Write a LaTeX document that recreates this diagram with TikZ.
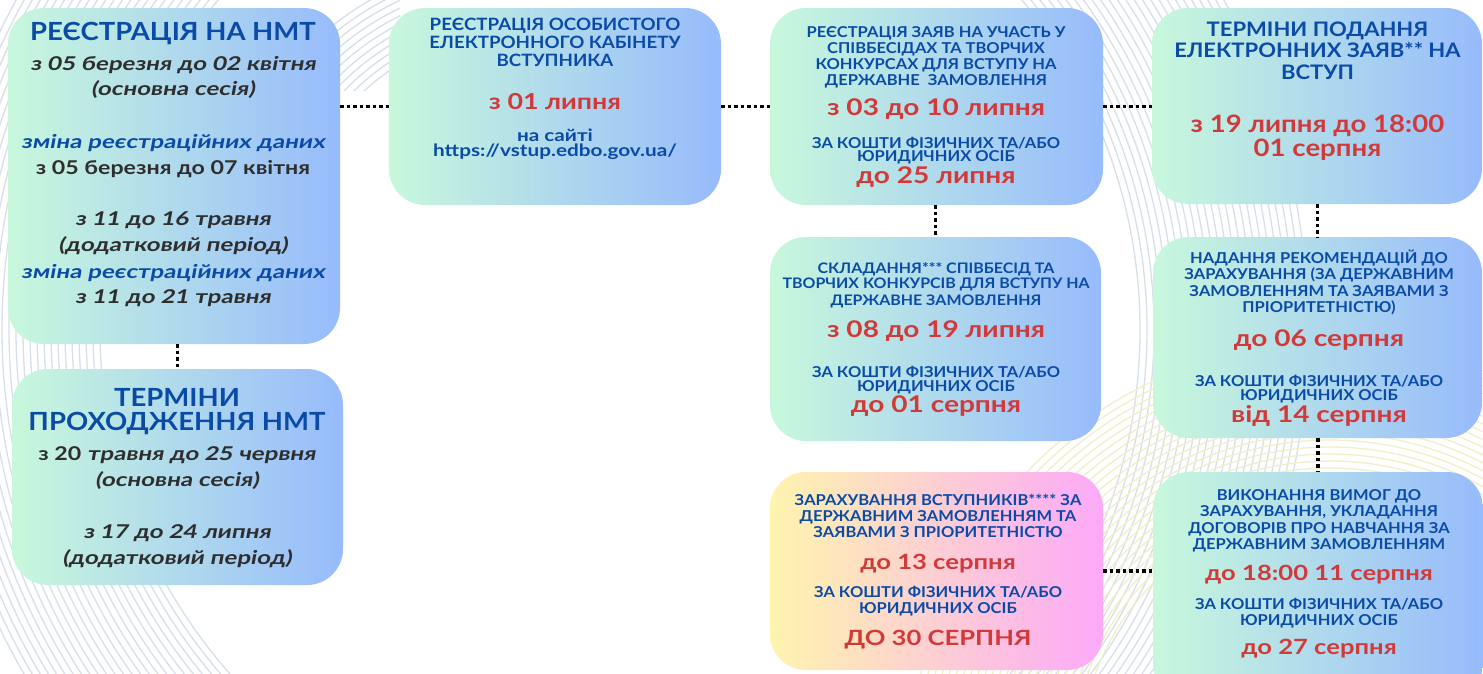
\documentclass[tikz,border=0pt]{standalone}
\usepackage{fontspec}
\setmainfont{Lato}
\newfontfamily\fhd{Lato}[FakeStretch=1.1]
\newfontfamily\flow{Lato}[FakeStretch=1.22]
\newfontfamily\flowb{Lato}[FakeStretch=1.15]
\newfontfamily\fobl{Lato}[FakeStretch=1.27, FakeSlant=0.18]
\definecolor{tblue}{HTML}{0B4BA8}
\definecolor{tred}{HTML}{D23A3A}
\definecolor{tgray}{HTML}{2E2E2E}
\definecolor{gmint}{HTML}{C8F8DC}
\definecolor{gmid}{HTML}{B2DDE6}
\definecolor{gblue}{HTML}{97BBFC}
\definecolor{gyel}{HTML}{FEF4AE}
\definecolor{gpeach}{HTML}{FCD2D2}
\definecolor{gpink}{HTML}{FCA9F8}
\definecolor{arcb}{HTML}{D5E0EC}
\definecolor{arcy}{HTML}{F4EEC8}
\tikzset{
  box/.style={rounded corners=36pt, inner sep=0pt, left color=gmint, middle color=gmid, right color=gblue},
  boxw/.style={rounded corners=36pt, inner sep=0pt, left color=gyel, middle color=gpeach, right color=gpink},
  hd/.style={text=tblue, inner sep=0pt, anchor=base, font={\fhd\fontsize{#1pt}{#1pt}\selectfont\bfseries}},
  hl/.style={text=tblue, inner sep=0pt, anchor=base, font={\flow\fontsize{#1pt}{#1pt}\selectfont\bfseries}},
  rd/.style={text=tred, inner sep=0pt, anchor=base, font={\flow\fontsize{#1pt}{#1pt}\selectfont\bfseries}},
  rdn/.style={text=tred, inner sep=0pt, anchor=base, font={\flowb\fontsize{#1pt}{#1pt}\selectfont\bfseries}},
  it/.style={text=tgray, inner sep=0pt, anchor=base, font={\fobl\fontsize{#1pt}{#1pt}\selectfont\bfseries}},
  bi/.style={text=tblue, inner sep=0pt, anchor=base, font={\fobl\fontsize{#1pt}{#1pt}\selectfont\bfseries}},
  up/.style={text=tgray, inner sep=0pt, anchor=base, font={\flow\fontsize{#1pt}{#1pt}\selectfont\bfseries}},
  conn/.style={line width=3.5pt, dash pattern=on 3.5pt off 3pt, black},
  arcline/.style={line width=1.3pt}
}
\begin{document}
\begin{tikzpicture}[x=1pt,y=-1pt]
\useasboundingbox (0,0) rectangle (1483,673);
\fill[white] (0,0) rectangle (1483,673);
% decorative arcs
\begin{scope}
  \clip (0,0) rectangle (1483,673);
  \foreach \r in {520,527,...,690} \draw[arcb, arcline] (620,330) circle[radius=\r pt];
  \foreach \r in {250,257,...,420} \draw[arcy, arcline] (1330,760) circle[radius=\r pt];
\end{scope}
\begin{scope}
  \clip (330,0) rectangle (400,90);
  \foreach \r in {230,237,...,300} \draw[arcb, arcline] (520,260) circle[radius=\r pt];
\end{scope}
% boxes
\node[box, minimum width=332pt, minimum height=336pt] (A) at (174,176) {};
\node[box, minimum width=331pt, minimum height=216pt] (B) at (177.5,477) {};
\node[box, minimum width=332pt, minimum height=197pt] (C) at (555,106.5) {};
\node[box, minimum width=333pt, minimum height=197pt] (D) at (936.5,106.5) {};
\node[box, minimum width=330pt, minimum height=196pt] (E) at (1317,106) {};
\node[box, minimum width=331pt, minimum height=204pt] (F) at (935.5,339) {};
\node[box, minimum width=329pt, minimum height=201pt] (G) at (1317.5,337.5) {};
\node[boxw, minimum width=333pt, minimum height=198pt] (H) at (936.5,571) {};
\node[box, minimum width=330pt, minimum height=228pt] (I) at (1318,586) {};
% connectors
\draw[conn] (C.west -| A.east) -- (C.west);
\draw[conn] (C.east) -- (D.west);
\draw[conn] (D.east) -- (D.east -| E.west);
\draw[conn] (B.north |- A.south) -- (B.north);
\draw[conn] (D.south -| F.north) -- (F.north);
\draw[conn] (E.south -| G.north) -- (G.north);
\draw[conn] (G.south -| I.north) -- (I.north);
\draw[conn] (H.east) -- (H.east -| I.west);
% box A
\node[hd=25] (a1) at (173,40) {РЕЄСТРАЦІЯ НА НМТ};
\node[it=19] (a2) at (173,70) {з 05 березня до 02 квітня};
\node[it=19] (a3) at (173,95.5) {(основна сесія)};
\node[bi=19] (a4) at (173,148) {зміна реєстраційних даних};
\node[up=19] (a5) at (173,174) {з 05 березня до 07 квітня};
\node[it=19] (a6) at (173,225) {з 11 до 16 травня};
\node[it=19] (a7) at (173,251) {(додатковий період)};
\node[bi=19] (a8) at (173,278) {зміна реєстраційних даних};
\node[it=19] (a9) at (173,303) {з 11 до 21 травня};
% box B
\node[hd=25] (b1) at (177,406.7) {ТЕРМІНИ};
\node[hd=25] (b2) at (177,430.7) {ПРОХОДЖЕННЯ НМТ};
\node[it=19] (b3) at (177,460.7) {{\flow\bfseries з 20} травня до 25 червня};
\node[it=19] (b4) at (177,486) {(основна сесія)};
\node[it=19] (b5) at (177,538) {з 17 до 24 липня};
\node[it=19] (b6) at (177,564) {(додатковий період)};
% box C
\node[hd=17] (c1) at (555,30.7) {РЕЄСТРАЦІЯ ОСОБИСТОГО};
\node[hd=17] (c2) at (555,48.3) {ЕЛЕКТРОННОГО КАБІНЕТУ};
\node[hd=17] (c3) at (555,66) {ВСТУПНИКА};
\node[rd=22] (c4) at (555,109.3) {з 01 липня};
\node[hl=17] (c5) at (555,141.7) {на сайті};
\node[hl=17] (c6) at (555,156.7) {https://vstup.edbo.gov.ua/};
% box D
\node[hd=15] (d1) at (936,37.3) {РЕЄСТРАЦІЯ ЗАЯВ НА УЧАСТЬ У};
\node[hd=15] (d2) at (936,53.3) {СПІВБЕСІДАХ ТА ТВОРЧИХ};
\node[hd=15] (d3) at (936,69) {КОНКУРСАХ ДЛЯ ВСТУПУ НА};
\node[hd=15] (d4) at (936,85) {ДЕРЖАВНЕ\ \ ЗАМОВЛЕННЯ};
\node[rd=23] (d5) at (936,115) {з 03 до 10 липня};
\node[hd=15] (d6) at (936,148.3) {ЗА КОШТИ ФІЗИЧНИХ ТА/АБО};
\node[hd=15] (d7) at (936,161.7) {ЮРИДИЧНИХ ОСІБ};
\node[rd=23] (d8) at (936,183.3) {до 25 липня};
% box E
\node[hd=20] (e1) at (1317.5,36) {ТЕРМІНИ ПОДАННЯ};
\node[hd=20] (e2) at (1317.5,57.3) {ЕЛЕКТРОННИХ ЗАЯВ** НА};
\node[hd=20] (e3) at (1317.5,79) {ВСТУП};
\node[rdn=24] (e4) at (1317.5,132.7) {з 19 липня до 18:00};
\node[rdn=24] (e5) at (1317.5,156.7) {01 серпня};
% box F
\node[hd=14.5] (f1) at (936,273.3) {СКЛАДАННЯ*** СПІВБЕСІД ТА};
\node[hd=14.5] (f2) at (936,288.3) {ТВОРЧИХ КОНКУРСІВ ДЛЯ ВСТУПУ НА};
\node[hd=14.5] (f3) at (936,305) {ДЕРЖАВНЕ ЗАМОВЛЕННЯ};
\node[rd=23] (f4) at (936,337.3) {з 08 до 19 липня};
\node[hd=15] (f5) at (936,377.3) {ЗА КОШТИ ФІЗИЧНИХ ТА/АБО};
\node[hd=15] (f6) at (936,391.7) {ЮРИДИЧНИХ ОСІБ};
\node[rd=23] (f7) at (936,412.7) {до 01 серпня};
% box G
\node[hd=15] (g1) at (1319,263.3) {НАДАННЯ РЕКОМЕНДАЦІЙ ДО};
\node[hd=15] (g2) at (1319,279.3) {ЗАРАХУВАННЯ (ЗА ДЕРЖАВНИМ};
\node[hd=15] (g3) at (1319,296) {ЗАМОВЛЕННЯМ ТА ЗАЯВАМИ З};
\node[hd=15] (g4) at (1319,312.7) {ПРІОРИТЕТНІСТЮ)};
\node[rd=23] (g5) at (1319,346.7) {до 06 серпня};
\node[hd=15] (g6) at (1319,386.7) {ЗА КОШТИ ФІЗИЧНИХ ТА/АБО};
\node[hd=15] (g7) at (1319,400) {ЮРИДИЧНИХ ОСІБ};
\node[rd=23] (g8) at (1319,422.7) {від 14 серпня};
% box H
\node[hd=15] (h1) at (938,505) {ЗАРАХУВАННЯ ВСТУПНИКІВ**** ЗА};
\node[hd=15] (h2) at (938,521.7) {ДЕРЖАВНИМ ЗАМОВЛЕННЯМ ТА};
\node[hd=15] (h3) at (938,537.3) {ЗАЯВАМИ З ПРІОРИТЕТНІСТЮ};
\node[rd=21] (h4) at (938,569.3) {до 13 серпня};
\node[hd=15] (h5) at (938,597.3) {ЗА КОШТИ ФІЗИЧНИХ ТА/АБО};
\node[hd=15] (h6) at (938,613.3) {ЮРИДИЧНИХ ОСІБ};
\node[rd=21] (h7) at (938,645) {ДО 30 СЕРПНЯ};
% box I
\node[hd=15] (i1) at (1319,500.7) {ВИКОНАННЯ ВИМОГ ДО};
\node[hd=15] (i2) at (1319,516.7) {ЗАРАХУВАННЯ, УКЛАДАННЯ};
\node[hd=15] (i3) at (1319,533.3) {ДОГОВОРІВ ПРО НАВЧАННЯ ЗА};
\node[hd=15] (i4) at (1319,549.3) {ДЕРЖАВНИМ ЗАМОВЛЕННЯМ};
\node[rd=21] (i5) at (1319,580.7) {до 18:00 11 серпня};
\node[hd=15] (i6) at (1319,609.3) {ЗА КОШТИ ФІЗИЧНИХ ТА/АБО};
\node[hd=15] (i7) at (1319,625) {ЮРИДИЧНИХ ОСІБ};
\node[rd=21] (i8) at (1319,654) {до 27 серпня};
\end{tikzpicture}
\end{document}
